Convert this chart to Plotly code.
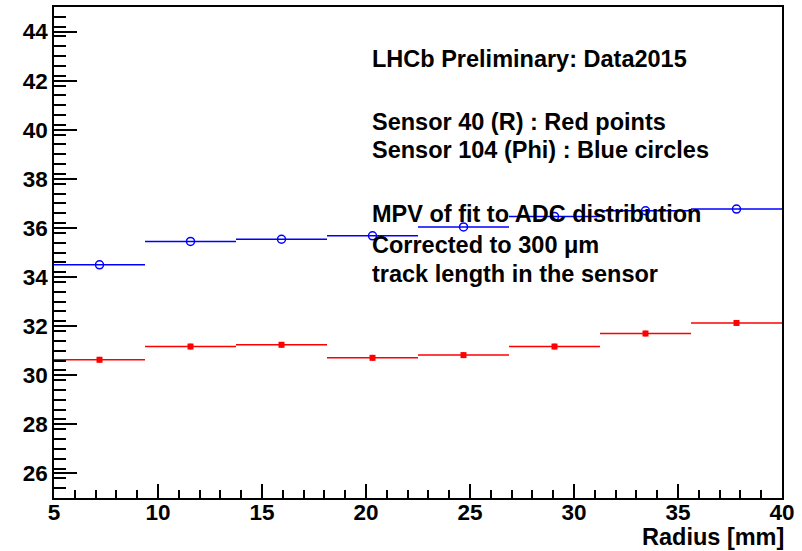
import plotly.graph_objects as go

# bin edges / centres (8 bins from 5 to 40 mm)
bin_edges = [5.0, 9.375, 13.75, 18.125, 22.5, 26.875, 31.25, 35.625, 40.0]
radius = [(a + b) / 2 for a, b in zip(bin_edges[:-1], bin_edges[1:])]
half_width = [(b - a) / 2 for a, b in zip(bin_edges[:-1], bin_edges[1:])]

red_mpv = [30.63, 31.17, 31.24, 30.71, 30.82, 31.17, 31.70, 32.13]
red_err = [0.12, 0.12, 0.12, 0.12, 0.12, 0.12, 0.12, 0.12]
blue_mpv = [34.50, 35.45, 35.54, 35.68, 36.04, 36.47, 36.70, 36.77]

texts = [
    ("LHCb Preliminary: Data2015", 57),
    ("Sensor 40 (R) : Red points", 120),
    ("Sensor 104 (Phi) : Blue circles", 149),
    ("MPV of fit to ADC distribution", 213),
    ("Corrected to 300 \u03bcm", 244),
    ("track length in the sensor", 273),
]

FONT = "Liberation Sans"
TXT_SIZE = 23.5
TICK_SIZE = 22.5

fig = go.Figure()
fig.add_trace(go.Scatter(
    x=radius, y=red_mpv, mode="markers",
    marker=dict(symbol="square", size=6, color="#ff0000"),
    error_x=dict(type="data", array=half_width, width=0, thickness=1.5, color="#ff0000"),
    error_y=dict(type="data", array=red_err, width=0, thickness=1.5, color="#ff0000"),
    showlegend=False,
))
fig.add_trace(go.Scatter(
    x=radius, y=blue_mpv, mode="markers",
    marker=dict(symbol="circle-open", size=8, color="#0000ff", line=dict(width=1.5, color="#0000ff")),
    error_x=dict(type="data", array=half_width, width=0, thickness=1.5, color="#0000ff"),
    showlegend=False,
))

top, bottom = 5, 498
for txt, py in texts:
    fig.add_annotation(
        text=txt, xref="paper", yref="paper",
        x=(370 - 54) / (782 - 54), y=(bottom - py) / (bottom - top),
        xanchor="left", yanchor="middle", showarrow=False,
        font=dict(family=FONT, size=TXT_SIZE, color="black", weight="bold"),
    )

fig.add_annotation(
    text="Radius [mm]", xref="paper", yref="paper",
    x=1.005, y=(bottom - 537) / (bottom - top),
    xanchor="right", yanchor="middle", showarrow=False,
    font=dict(family=FONT, size=TXT_SIZE, color="black", weight="bold"),
)

axis_common = dict(
    showgrid=False, zeroline=False, showline=True, linecolor="black", linewidth=1.5,
    mirror=True, ticks="inside", tickcolor="black", tickwidth=1.5,
    tickfont=dict(family=FONT, size=TICK_SIZE, color="black", weight="bold"),
)

fig.update_xaxes(range=[5, 40], tickmode="linear", tick0=5, dtick=5, ticklen=14,
                 ticklabelstandoff=-7,
                 minor=dict(ticks="inside", dtick=1, ticklen=8, tickcolor="black", tickwidth=1.5),
                 **axis_common)
fig.update_yaxes(range=[25, 45], tickmode="linear", tick0=26, dtick=2, ticklen=23,
                 minor=dict(ticks="inside", dtick=0.4, tick0=25, ticklen=12, tickcolor="black", tickwidth=1.5),
                 **axis_common)

fig.update_layout(
    width=802, height=551,
    margin=dict(l=54, r=20, t=5, b=53),
    plot_bgcolor="white", paper_bgcolor="white",
)

fig.write_html("out.html")
